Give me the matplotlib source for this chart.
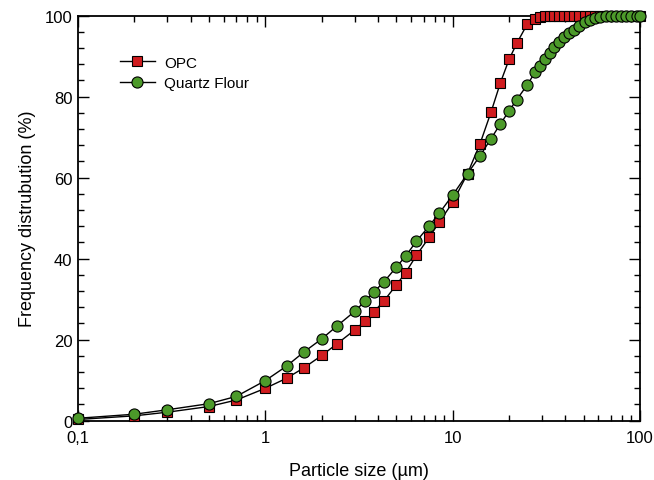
"""
Particle size distribution of OPC and quartz flour
"""

import matplotlib
matplotlib.use('Agg')
import matplotlib.pyplot as plt
from matplotlib.ticker import MultipleLocator, LogLocator, NullFormatter

# particle size classes (um), shared by both materials
sizes = [0.1, 0.2, 0.3, 0.5, 0.7, 1.0, 1.3, 1.6, 2.0, 2.4,
         3.0, 3.4, 3.8, 4.3, 5.0, 5.6, 6.4, 7.5, 8.5, 10,
         12, 14, 16, 18, 20, 22, 25, 27.5, 29.3, 31.1,
         33.1, 34.9, 37.1, 39.5, 42, 44.5, 47.5, 50.9, 54.2, 57.6,
         61.2, 65.7, 70.1, 74.5, 79.3, 84.3, 89.6, 96.1, 100]

opc = [0.3, 1.2, 2.1, 3.5, 5.1, 8.0, 10.5, 13.0, 16.1, 18.9,
       22.4, 24.6, 26.9, 29.6, 33.5, 36.5, 40.8, 45.3, 49.1, 53.9,
       61.0, 68.4, 76.1, 83.5, 89.2, 93.2, 97.9, 99.1, 99.6, 100,
       100, 100, 100, 100, 100, 100, 100, 100, 100, 100,
       100, 100, 100, 100, 100, 100, 100, 100, 100]

quartz = [0.6, 1.6, 2.7, 4.2, 6.0, 9.9, 13.5, 16.9, 20.2, 23.3,
          27.0, 29.5, 31.8, 34.3, 37.9, 40.6, 44.3, 48.1, 51.3, 55.7,
          61.0, 65.4, 69.6, 73.3, 76.5, 79.3, 82.9, 86.0, 87.7, 89.3,
          90.7, 92.2, 93.4, 94.7, 95.7, 96.5, 97.5, 98.4, 99.0, 99.4,
          99.8, 100, 100, 100, 100, 100, 100, 100, 100]

x_ticks = [0.1, 1, 10, 100]
x_ticklabels = ['0,1', '1', '10', '100']

plt.rcParams['font.family'] = ['Liberation Sans', 'DejaVu Sans']

fig = plt.figure(figsize=(6.54, 4.81), dpi=100)
ax = fig.add_axes([0.1193, 0.1233, 0.8593, 0.842])

ax.plot(sizes, opc, color='black', lw=1.0, marker='s', markersize=7,
        markerfacecolor='#d01c1f', markeredgecolor='black', markeredgewidth=0.8,
        label='OPC', clip_on=False, zorder=3)
ax.plot(sizes, quartz, color='black', lw=1.0, marker='o', markersize=8,
        markerfacecolor='#4c9a2a', markeredgecolor='black', markeredgewidth=0.8,
        label='Quartz Flour', clip_on=False, zorder=4)

ax.set_xscale('log')
ax.set_xlim(0.1, 100)
ax.set_ylim(0, 100)
ax.set_xticks(x_ticks)
ax.set_xticklabels(x_ticklabels)
ax.xaxis.set_minor_locator(LogLocator(base=10, subs=range(2, 10)))
ax.xaxis.set_minor_formatter(NullFormatter())
ax.yaxis.set_major_locator(MultipleLocator(20))
ax.yaxis.set_minor_locator(MultipleLocator(4))

ax.tick_params(which='both', direction='in', top=True, right=True,
               labelsize=12, width=1.0)
ax.tick_params(which='major', length=8)
ax.tick_params(which='minor', length=4)
ax.tick_params(axis='x', pad=7)
ax.tick_params(axis='y', pad=4)
for s in ax.spines.values():
    s.set_linewidth(1.3)

ax.set_xlabel('Particle size (\u00b5m)', fontsize=13, labelpad=12)
ax.set_ylabel('Frequency distrubution (%)', fontsize=13, labelpad=6)

ax.legend(loc='upper left', bbox_to_anchor=(0.05, 0.935), frameon=False,
          fontsize=11, handlelength=2.3, handletextpad=0.6, labelspacing=0.4)

fig.savefig('out.png', dpi=100)
